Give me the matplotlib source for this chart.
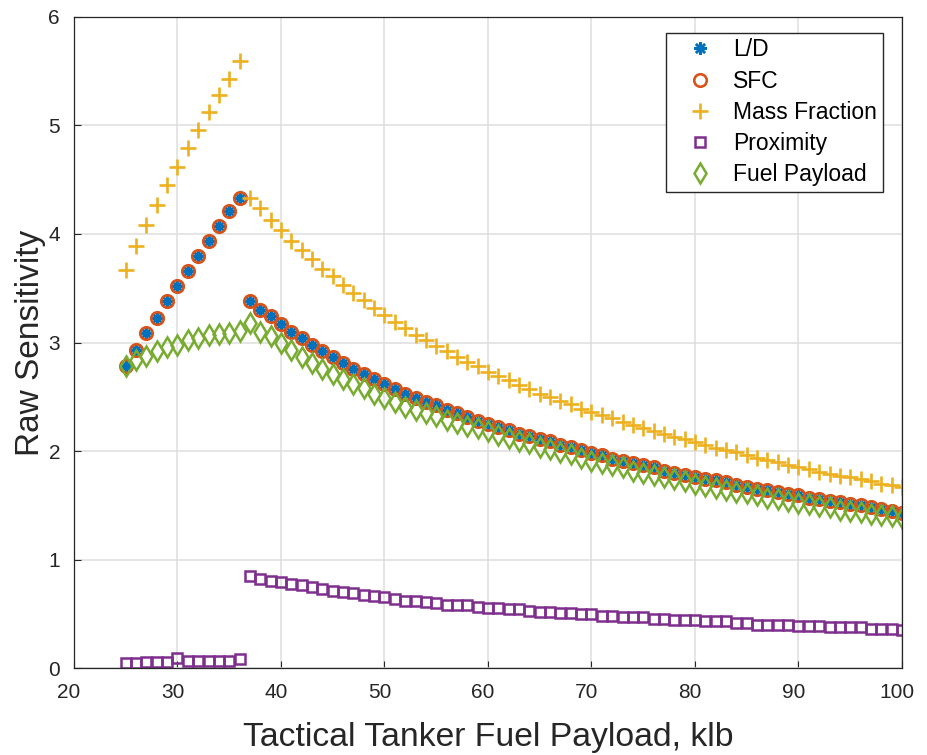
import matplotlib
matplotlib.use("Agg")
import matplotlib.pyplot as plt
import matplotlib.transforms as mtransforms

plt.rcParams['font.family'] = ['Liberation Sans', 'DejaVu Sans']

# tactical tanker fuel payload, klb
payload = list(range(25, 101))

ld_sens = [2.78, 2.93, 3.09, 3.23, 3.38, 3.52, 3.66, 3.80, 3.94, 4.07, 4.21, 4.33,
           3.38, 3.30, 3.24, 3.17, 3.10, 3.04, 2.98, 2.92, 2.87, 2.81,
           2.76, 2.71, 2.66, 2.62, 2.57, 2.53, 2.49, 2.45, 2.42, 2.38,
           2.35, 2.31, 2.28, 2.25, 2.22, 2.19, 2.16, 2.14, 2.11, 2.09,
           2.06, 2.04, 2.01, 1.98, 1.96, 1.93, 1.91, 1.89, 1.87, 1.85,
           1.82, 1.80, 1.78, 1.76, 1.74, 1.73, 1.71, 1.69, 1.67, 1.65,
           1.64, 1.62, 1.60, 1.59, 1.57, 1.56, 1.54, 1.53, 1.51, 1.50,
           1.48, 1.47, 1.45, 1.43]

# SFC sensitivity coincides with L/D
sfc_sens = list(ld_sens)

mass_frac_sens = [3.67, 3.89, 4.08, 4.27, 4.45, 4.62, 4.79, 4.96, 5.12, 5.28, 5.43, 5.59,
                  4.33, 4.24, 4.13, 4.04, 3.94, 3.85, 3.77, 3.68, 3.61, 3.53,
                  3.46, 3.39, 3.32, 3.25, 3.19, 3.13, 3.07, 3.02, 2.97, 2.92,
                  2.87, 2.82, 2.78, 2.73, 2.69, 2.65, 2.61, 2.57, 2.53, 2.50,
                  2.46, 2.43, 2.39, 2.36, 2.33, 2.30, 2.27, 2.24, 2.21, 2.18,
                  2.16, 2.13, 2.11, 2.08, 2.06, 2.03, 2.01, 1.99, 1.96, 1.94,
                  1.92, 1.90, 1.87, 1.85, 1.83, 1.81, 1.79, 1.77, 1.76, 1.74,
                  1.72, 1.70, 1.69, 1.67]

proximity_sens = [0.043, 0.043, 0.058, 0.058, 0.058, 0.095, 0.068, 0.068, 0.068, 0.068, 0.068, 0.083,
                  0.848, 0.820, 0.805, 0.795, 0.774, 0.762, 0.744, 0.731, 0.713, 0.700,
                  0.688, 0.673, 0.664, 0.651, 0.636, 0.620, 0.620, 0.608, 0.596, 0.584,
                  0.584, 0.578, 0.565, 0.556, 0.550, 0.541, 0.541, 0.530, 0.520, 0.520,
                  0.510, 0.510, 0.495, 0.495, 0.480, 0.480, 0.470, 0.470, 0.470, 0.455,
                  0.455, 0.440, 0.440, 0.440, 0.430, 0.430, 0.430, 0.415, 0.415, 0.400,
                  0.400, 0.400, 0.400, 0.390, 0.390, 0.390, 0.375, 0.375, 0.375, 0.375,
                  0.360, 0.360, 0.360, 0.350]

fuel_payload_sens = [2.78, 2.84, 2.88, 2.92, 2.96, 2.98, 3.02, 3.04, 3.07, 3.08, 3.09, 3.11,
                     3.18, 3.10, 3.06, 3.00, 2.93, 2.87, 2.81, 2.76, 2.71, 2.66,
                     2.62, 2.58, 2.53, 2.49, 2.45, 2.41, 2.38, 2.35, 2.32, 2.29,
                     2.26, 2.23, 2.21, 2.18, 2.15, 2.12, 2.09, 2.07, 2.04, 2.02,
                     1.99, 1.97, 1.94, 1.91, 1.89, 1.87, 1.85, 1.82, 1.80, 1.78,
                     1.76, 1.74, 1.72, 1.70, 1.68, 1.66, 1.64, 1.62, 1.61, 1.59,
                     1.57, 1.56, 1.54, 1.52, 1.51, 1.49, 1.48, 1.46, 1.45, 1.44,
                     1.42, 1.41, 1.40, 1.38]

x_ticks = [20, 30, 40, 50, 60, 70, 80, 90, 100]
y_ticks = [0, 1, 2, 3, 4, 5, 6]

fig = plt.figure(figsize=(9.27, 7.55), dpi=100)
ax = fig.add_axes([0.0798, 0.1152, 0.8932, 0.8623])

ax.plot(payload, ld_sens, linestyle='none', marker=(8, 2, 0), markersize=9,
        markeredgewidth=1.8, color='#0072BD', label='L/D')
ax.plot(payload, sfc_sens, linestyle='none', marker='o', markersize=9,
        markeredgewidth=1.9, markerfacecolor='none', color='#D95319', label='SFC')
ax.plot(payload, mass_frac_sens, linestyle='none', marker='+', markersize=11,
        markeredgewidth=1.9, color='#EDB120', label='Mass Fraction')
ax.plot(payload, proximity_sens, linestyle='none', marker='s', markersize=7,
        markeredgewidth=1.8, markerfacecolor='none', color='#7E2F8E', label='Proximity')
ax.plot(payload, fuel_payload_sens, linestyle='none', marker='d', markersize=10,
        markeredgewidth=1.8, markerfacecolor='none', color='#77AC30', label='Fuel Payload')

ax.set_xlim(20, 100)
ax.set_ylim(0, 6)
ax.set_xticks(x_ticks)
ax.set_yticks(y_ticks)
ax.grid(True, color='#dedede', linewidth=1.1)
ax.set_axisbelow(True)
ax.tick_params(direction='in', length=5, width=0.8, colors='#262626',
               labelsize=15, top=False, right=False)
ax.tick_params(axis='x', pad=11)
ax.tick_params(axis='y', pad=10)
for s in ax.spines.values():
    s.set_color('#262626')
    s.set_linewidth(0.9)

# x tick labels sit slightly left of their ticks
shift = mtransforms.ScaledTranslation(-5 / 100, 0, fig.dpi_scale_trans)
for lbl in ax.get_xticklabels():
    lbl.set_transform(lbl.get_transform() + shift)

ax.set_xlabel('Tactical Tanker Fuel Payload, klb', fontsize=24.3, color='#262626', labelpad=14)
ax.set_ylabel('Raw Sensitivity', fontsize=24, color='#262626', labelpad=2)

leg = ax.legend(loc='upper right', bbox_to_anchor=(0.977, 0.976), borderaxespad=0,
                fontsize=16.5, frameon=True, fancybox=False, handlelength=2.5,
                handletextpad=0.2, borderpad=0.25, labelspacing=0.36, numpoints=1)
leg.get_frame().set_edgecolor('#262626')
leg.get_frame().set_linewidth(1.0)
leg.get_frame().set_alpha(1)

fig.savefig('out.png', dpi=100)
